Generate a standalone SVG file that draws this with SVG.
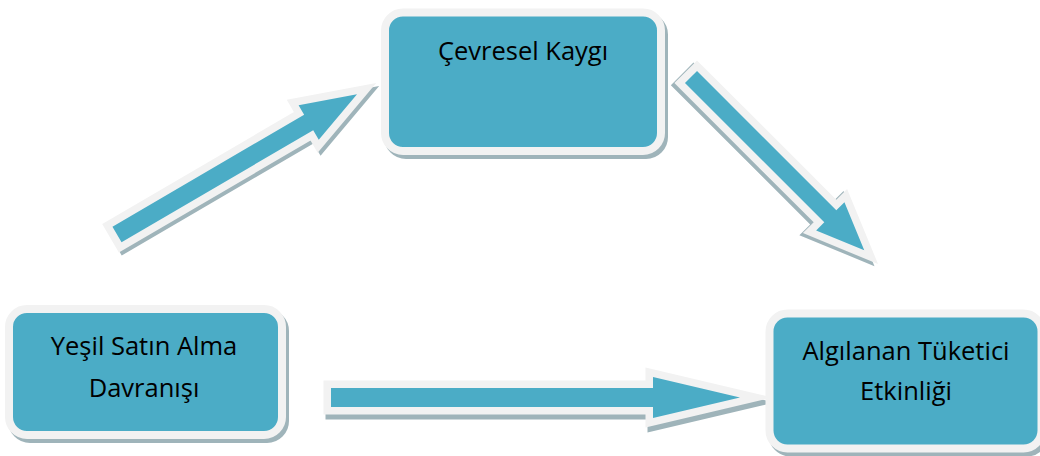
<svg xmlns="http://www.w3.org/2000/svg" width="1040" height="456" viewBox="0 0 1040 456">
<defs>
<style>
.bg{fill:#ffffff}
.shadow{fill:#9fb4ba;stroke:#9fb4ba;stroke-width:8;stroke-linejoin:miter;stroke-miterlimit:10}
.box{fill:#4bacc6;stroke:#f2f2f2;stroke-width:8;stroke-linejoin:miter;stroke-miterlimit:10}
.ashadow{fill:#9fb4ba;stroke:#9fb4ba;stroke-width:15;stroke-linejoin:miter;stroke-miterlimit:10;paint-order:stroke}
.arrow{fill:#4bacc6;stroke:#f2f2f2;stroke-width:15;stroke-linejoin:miter;stroke-miterlimit:10;paint-order:stroke}
.lbl{font-family:"Open Sans","Noto Sans","DejaVu Sans",sans-serif;font-size:25.5px;fill:#000000;text-anchor:middle}
</style>
</defs>
<rect class="bg" x="0" y="0" width="1040" height="456"/>
<g id="connectors">
  <g id="arrow-yesil-cevresel" transform="translate(117,234.5) rotate(-30.3)">
    <polygon class="ashadow" transform="translate(1,4)" points="0,-9 222,-9 222,-20 278,0 222,20 222,9 0,9"/>
    <polygon class="arrow" points="0,-9 222,-9 222,-20 278,0 222,20 222,9 0,9"/>
  </g>
  <g id="arrow-cevresel-algilanan" transform="translate(691,77) rotate(45)">
    <polygon class="ashadow" transform="translate(-1,4)" points="0,-8.5 197,-8.5 197,-20 245,0 197,20 197,8.5 0,8.5"/>
    <polygon class="arrow" points="0,-8.5 197,-8.5 197,-20 245,0 197,20 197,8.5 0,8.5"/>
  </g>
  <g id="arrow-yesil-algilanan" transform="translate(331,397.5)">
    <polygon class="ashadow" transform="translate(2,5)" points="0,-9.5 322,-9.5 322,-20.5 409,0 322,20.5 322,9.5 0,9.5"/>
    <polygon class="arrow" points="0,-9.5 322,-9.5 322,-20.5 409,0 322,20.5 322,9.5 0,9.5"/>
  </g>
</g>
<g id="node-cevresel">
  <rect class="shadow" x="388" y="16.5" width="276" height="138.5" rx="18"/>
  <rect class="box" x="385" y="12.5" width="276" height="138.5" rx="18"/>
  <text class="lbl" x="523" y="60">Çevresel Kaygı</text>
</g>
<g id="node-yesil">
  <rect class="shadow" x="12" y="313" width="273" height="126" rx="18"/>
  <rect class="box" x="9" y="309" width="273" height="126" rx="18"/>
  <text class="lbl" x="144" y="355">Yeşil Satın Alma</text>
  <text class="lbl" x="144" y="397">Davranışı</text>
</g>
<g id="node-algilanan">
  <rect class="shadow" x="772.5" y="317.5" width="272" height="135" rx="18"/>
  <rect class="box" x="769.5" y="313.5" width="272" height="135" rx="18"/>
  <text class="lbl" x="906" y="360">Algılanan Tüketici</text>
  <text class="lbl" x="906" y="400">Etkinliği</text>
</g>
</svg>
